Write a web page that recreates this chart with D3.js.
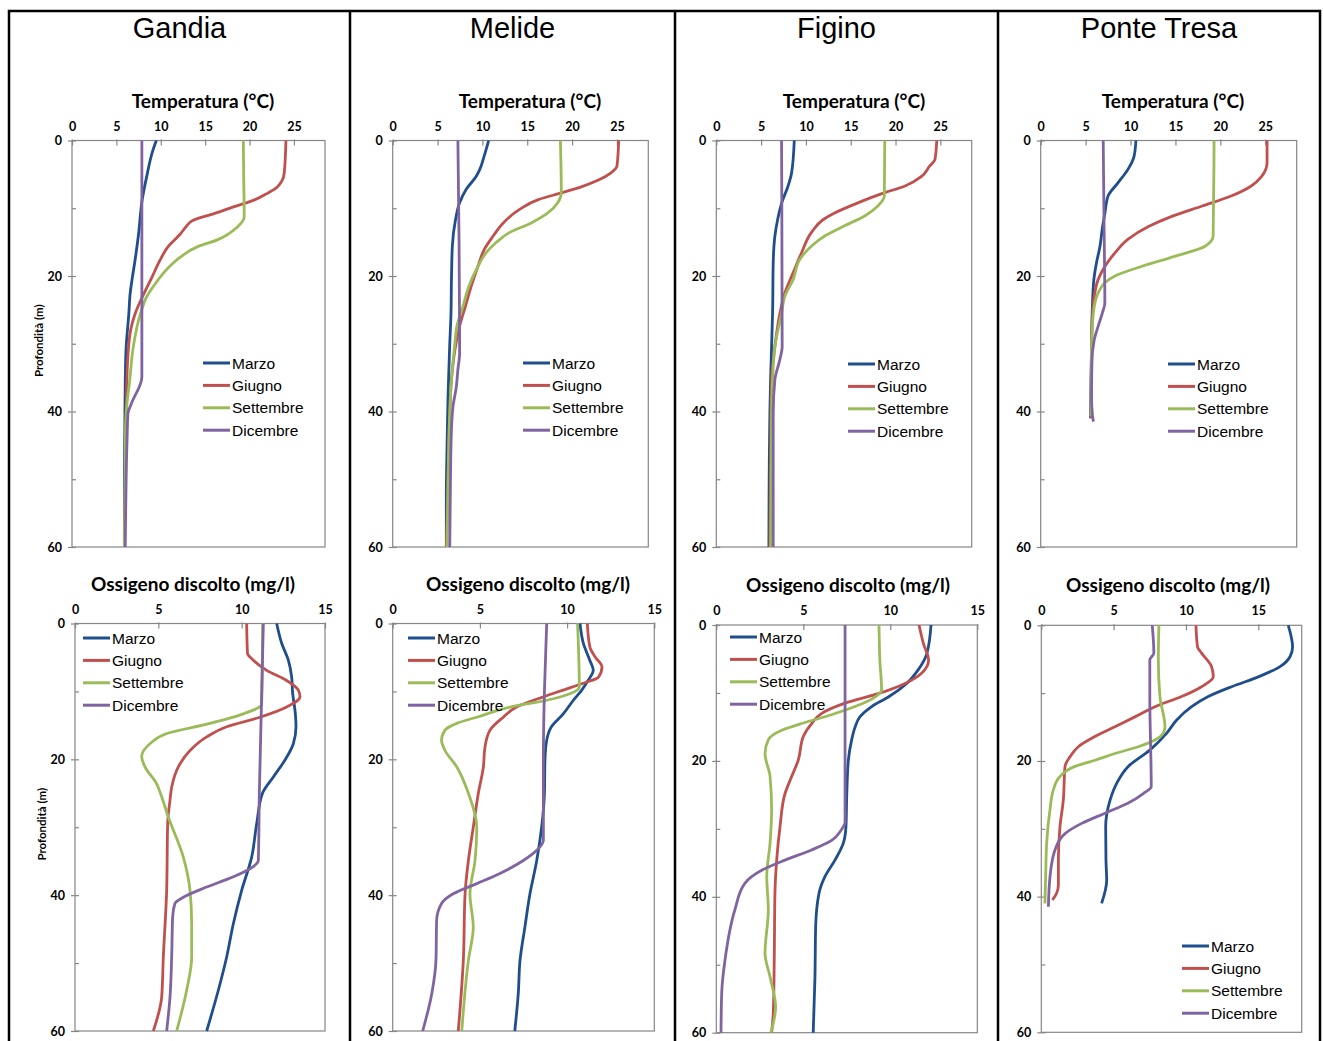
<!DOCTYPE html>
<html>
<head>
<meta charset="utf-8">
<script src="https://cdn.jsdelivr.net/npm/d3@7"></script>
<style>
  html, body { margin: 0; padding: 0; background: #fff; }
  svg { display: block; }
  .tick text { font-family: Lato, "Open Sans", sans-serif; font-weight: 700; font-size: 12.5px; fill: #000; }
  .tick line { stroke: #868686; }
</style>
</head>
<body>
<svg id="chart" width="1323" height="1041"></svg>
<script>
// sites and series
const sites = ["Gandia", "Melide", "Figino", "Ponte Tresa"];
const months = ["Marzo", "Giugno", "Settembre", "Dicembre"];
const depthTicks = [0, 10, 20, 30, 40, 50, 60];
const tempTicks = [0, 5, 10, 15, 20, 25];
const oxyTicks = [0, 5, 10, 15];

// each series: [depth (m), value]; order = months
const tempGandia = [
    [[0,9.5],[1.5,9.1],[5.4,8.4],[8.8,7.9],[13.8,7.5],[17.7,7.1],[20.2,6.8],[22.6,6.55],[25.6,6.4],[30.5,6.1],[35.4,6.0],[42.8,5.95],[50,5.9],[60,5.9]],
    [[0,24.1],[4.9,23.9],[6.9,23.1],[7.8,22],[8.8,20.5],[9.8,18.2],[10.8,16],[11.8,13.6],[12.8,12.8],[13.8,12.2],[15.7,10.8],[17.7,9.9],[20.2,9.0],[22.6,8.1],[25.6,7.1],[28,6.6],[32.9,6.25],[40.3,6.1],[50,6.0],[60,5.9]],
    [[0,19.3],[6,19.35],[11.3,19.4],[12.8,18.6],[14.7,16.3],[15.7,14.1],[17.2,12.2],[18.7,10.9],[21.1,9.4],[23.1,8.4],[25.6,7.7],[30.5,6.9],[35.4,6.5],[40.3,6.1],[45.2,6.0],[60,5.9]],
    [[0,7.87],[20,7.87],[34.9,7.87],[38.8,6.7],[40.3,6.3],[44.2,6.2],[60,6.0]]
];
const oxyGandia = [
    [[0,12.1],[2.9,12.4],[5.4,12.8],[7.9,13.0],[10.3,13.06],[12.8,13.2],[15.2,13.26],[17.7,13.1],[20.1,12.6],[22.6,11.9],[25,11.25],[29.5,10.9],[34.4,10.6],[39.3,10.0],[44.2,9.5],[49.1,9.1],[54,8.6],[60,7.9]],
    [[0,10.3],[4.4,10.35],[5.4,10.7],[6.9,11.5],[8.4,12.7],[9.8,13.4],[10.8,13.5],[12.3,12.7],[13.8,11.1],[15.2,9.1],[16.7,7.9],[18.7,6.9],[21.1,6.2],[24.1,5.8],[26,5.7],[29.5,5.56],[39.3,5.5],[49.1,5.3],[55,5.2],[60,4.7]],
    [[0,11.26],[11.9,11.2],[13.3,10.1],[14.7,8.1],[16.2,5.5],[17.7,4.5],[19.6,4.0],[21.1,4.2],[23.6,4.9],[25.5,5.2],[28.5,5.6],[34.4,6.5],[39.3,6.9],[44.2,7.0],[49.1,7.0],[54,6.7],[60,6.1]],
    [[0,11.3],[25,11.06],[34.9,11.0],[35.8,10.7],[37.3,9.5],[38.8,7.9],[40.3,6.5],[41.2,6.0],[43.2,5.86],[49.1,5.8],[55,5.7],[60,5.5]]
];
const tempMelide = [
    [[0,10.7],[2.3,10.2],[4.3,9.7],[5.3,9.3],[7.2,8.2],[9.2,7.46],[11.7,7.0],[15.6,6.65],[20.5,6.55],[25.5,6.5],[30.4,6.35],[37.8,6.17],[45.2,6.06],[52.5,5.98],[60,5.98]],
    [[0,25.2],[3.8,25.0],[4.8,24.3],[5.8,23.0],[6.8,21.1],[7.7,18.9],[8.7,16.3],[10.2,14.1],[12.2,12.3],[14.1,11.2],[16.1,10.2],[18.6,9.5],[21.5,8.76],[24.5,8.1],[27.4,7.46],[30.4,7.0],[35.3,6.55],[40.2,6.36],[50,6.17],[60,5.98]],
    [[0,18.7],[7.7,18.8],[9.2,18.4],[10.7,17.3],[12.2,15.4],[13.6,13.0],[15.1,11.5],[16.6,10.4],[18.6,9.5],[21.5,8.5],[24.5,7.83],[27.4,7.16],[30.4,6.9],[35.3,6.55],[40.2,6.36],[50,6.17],[60,6.06]],
    [[0,7.27],[15,7.4],[31.4,7.46],[33.8,7.27],[36.3,7.1],[39.2,6.73],[42.7,6.55],[50.1,6.44],[60,6.36]]
];
const oxyMelide = [
    [[0,10.74],[2.9,10.93],[5.4,11.3],[6.9,11.5],[8.4,11.2],[9.8,10.84],[11.3,10.36],[13.3,9.78],[15.2,9.1],[17.2,8.83],[20.1,8.73],[25,8.7],[30,8.54],[34.9,8.26],[39.8,7.87],[44.7,7.58],[49.6,7.3],[54.5,7.2],[60,7.0]],
    [[0,11.16],[3.4,11.3],[4.9,11.6],[6.4,12.0],[7.9,11.8],[8.8,10.93],[9.8,9.78],[10.8,8.64],[12.3,7.1],[13.8,6.34],[15.7,5.58],[18.2,5.29],[21.1,5.2],[25,4.91],[30,4.62],[34.9,4.34],[39.8,4.15],[49.6,4.05],[60,3.76]],
    [[0,10.6],[9.3,10.7],[10.3,10.2],[11.3,8.83],[12.3,6.73],[13.8,4.82],[14.7,3.67],[15.7,3.0],[17.2,2.8],[18.7,3.0],[21.1,3.67],[25,4.34],[30,4.82],[34.9,4.72],[39.8,4.43],[44.7,4.62],[49.6,4.34],[60,3.96]],
    [[0,8.83],[10,8.7],[20,8.64],[31.9,8.64],[33.4,8.26],[34.9,7.49],[36.8,6.15],[38.3,4.82],[39.8,3.47],[41.2,2.81],[43.7,2.52],[49.6,2.48],[54.5,2.24],[60,1.72]]
];
const tempFigino = [
    [[0,8.7],[4.8,8.4],[6.75,8.0],[9.2,7.3],[11.7,6.84],[14.1,6.54],[18.1,6.35],[25.5,6.28],[30.4,6.17],[35.3,6.06],[40.2,5.98],[50.1,5.9],[60,5.87]],
    [[0,24.6],[2.8,24.4],[3.8,23.8],[5.3,22.9],[6.75,21.0],[7.7,18.8],[9.2,15.8],[10.7,13.2],[11.7,11.9],[13.6,10.6],[16.6,9.5],[19.5,8.58],[22.5,7.65],[25.5,7.1],[30.4,6.54],[35.3,6.17],[40.2,6.1],[60,5.98]],
    [[0,18.8],[8.2,18.75],[9.7,18.0],[11.1,16.6],[12.6,14.3],[14.1,12.1],[15.6,10.6],[17.6,9.3],[20.5,8.58],[23,7.65],[25.5,7.28],[30.4,6.54],[35.3,6.28],[40.2,6.17],[60,6.06]],
    [[0,7.28],[30.4,7.35],[32.3,7.1],[35.3,6.54],[40.2,6.35],[60,6.35]]
];
const oxyFigino = [
    [[0,12.34],[4.2,12.1],[6.6,11.6],[8.6,10.94],[10.6,9.89],[12,8.93],[13.5,8.26],[15,7.98],[16.9,7.78],[19.9,7.59],[24.8,7.5],[29.7,7.45],[32.1,7.3],[34.6,6.82],[37,6.25],[39.5,5.9],[44.4,5.71],[51.8,5.67],[60,5.57]],
    [[0,11.65],[2.7,11.9],[5.2,12.2],[7.1,11.8],[8.6,10.85],[10.1,9.31],[11.5,7.4],[13,6.06],[14.5,5.48],[16.4,5.0],[19.9,4.71],[22.3,4.33],[24.8,3.95],[29.7,3.66],[34.6,3.47],[39.5,3.37],[49.3,3.33],[56.7,3.28],[60,3.18]],
    [[0,9.35],[5.2,9.4],[9.6,9.5],[10.6,9.12],[12,7.97],[13.5,6.25],[14.5,4.9],[15.5,3.76],[16.9,2.99],[18.9,2.8],[22.3,3.09],[27.2,3.18],[32.1,3.09],[37,2.9],[41.9,2.99],[48.3,2.8],[51.8,3.09],[56.2,3.41],[60,3.14]],
    [[0,7.4],[29,7.4],[30.2,7.17],[31.7,6.63],[33.1,5.48],[34.6,3.95],[36.1,2.61],[38,1.65],[41.9,1.07],[49.3,0.5],[54.2,0.31],[60,0.27]]
];
const tempPonteTresa = [
    [[0,10.6],[2.3,10.4],[4.3,9.7],[6.25,8.6],[8.2,7.5],[10.7,7.15],[13.1,6.85],[15.6,6.6],[18.1,6.2],[20.5,5.92],[25.5,5.73],[30.4,5.66],[35.3,5.6],[41,5.55]],
    [[0,25.2],[3.3,25.2],[5.3,24.6],[6.75,23.4],[8.2,21.2],[9.7,17.9],[11.2,14.6],[12.7,12.0],[14.6,9.7],[16.6,8.26],[18.6,7.14],[20.5,6.4],[23,5.96],[25.5,5.77],[30.4,5.66],[41,5.6]],
    [[0,19.3],[14.1,19.2],[15.6,18.3],[17.1,14.9],[18.6,11.2],[20,8.26],[21,7.14],[22.5,6.4],[24.5,5.96],[27.9,5.73],[30.4,5.66],[40.7,5.6]],
    [[0,6.96],[12,7.05],[24,7.14],[25.5,6.85],[27.4,6.4],[29.4,5.96],[32.8,5.7],[37.8,5.66],[40.7,5.77],[41.5,5.88]]
];
const oxyPonteTresa = [
    [[0,17.07],[3.2,17.37],[4.6,17.2],[6.1,16.5],[7.6,15.0],[9.05,13.16],[10.5,11.54],[12,10.39],[13.96,9.36],[15.9,8.67],[18.4,7.5],[20.8,6.01],[23.3,5.21],[25.8,4.75],[29.7,4.45],[34.6,4.47],[37.6,4.52],[41,4.17]],
    [[0,10.69],[3.2,10.8],[4.1,11.08],[6.1,11.77],[7.6,11.89],[9.05,11.08],[10.5,9.7],[12,7.86],[13.5,6.47],[14.95,5.09],[16.4,3.71],[17.9,2.56],[19.4,1.98],[20.8,1.64],[25.8,1.52],[29.7,1.29],[34.6,1.18],[38.3,1.18],[39.5,1.06],[40.5,0.77]],
    [[0,8.13],[5.1,8.09],[10.5,8.2],[14.95,8.55],[15.9,8.43],[16.9,7.86],[17.9,6.7],[18.9,5.09],[19.9,3.71],[20.8,2.33],[22.3,1.29],[24.3,0.83],[27.2,0.6],[32.1,0.37],[37.1,0.3],[41,0.25]],
    [[0,7.67],[4.1,7.78],[5.1,7.5],[10.5,7.5],[23.8,7.6],[24.8,7.05],[26.2,6.01],[27.7,4.4],[29.2,2.79],[30.7,1.64],[33.1,0.95],[37.1,0.6],[41.5,0.49]]
];

const colors = ["#1f4e8c", "#c0504d", "#9bbb59", "#8064a2"];

// panel layout (pixel boxes)
const panels = [
    // temperature row
    { site: 0, data: tempGandia, title: "Temperatura (°C)", ticks: tempTicks, max: 28.5, box: [72, 140.5, 325, 547], titleX: 203, legend: [203, 363], ylabel: true },
    { site: 1, data: tempMelide, title: "Temperatura (°C)", ticks: tempTicks, max: 28.5, box: [392.7, 140.5, 648.3, 547], titleX: 530, legend: [523, 363] },
    { site: 2, data: tempFigino, title: "Temperatura (°C)", ticks: tempTicks, max: 28.5, box: [716.3, 140.5, 971.7, 547], titleX: 854, legend: [848, 364] },
    { site: 3, data: tempPonteTresa, title: "Temperatura (°C)", ticks: tempTicks, max: 28.5, box: [1040.7, 140.5, 1296.7, 547], titleX: 1173, legend: [1168, 364] },
    // oxygen row
    { site: 0, data: oxyGandia, title: "Ossigeno discolto (mg/l)", ticks: oxyTicks, max: 15, box: [75, 623.5, 325, 1031], titleX: 193, legend: [83, 638], ylabel: true },
    { site: 1, data: oxyMelide, title: "Ossigeno discolto (mg/l)", ticks: oxyTicks, max: 15, box: [392.7, 623.5, 654.3, 1031], titleX: 528, legend: [408, 638] },
    { site: 2, data: oxyFigino, title: "Ossigeno discolto (mg/l)", ticks: oxyTicks, max: 15, box: [716.3, 625, 977.3, 1032.7], titleX: 848, legend: [730, 637] },
    { site: 3, data: oxyPonteTresa, title: "Ossigeno discolto (mg/l)", ticks: oxyTicks, max: 18, box: [1041.3, 625.3, 1301.7, 1032.3], titleX: 1168, legend: [1182, 946] }
];

const colEdges = [9, 350, 675, 998, 1320];

const svg = d3.select("#chart");
const labelFont = "Lato, 'Open Sans', sans-serif";
const plainFont = "'Liberation Sans', Arial, sans-serif";

// outer frame and column dividers
svg.append("rect")
    .attr("x", colEdges[0]).attr("y", 11)
    .attr("width", colEdges[4] - colEdges[0]).attr("height", 1045)
    .attr("fill", "none").attr("stroke", "#000").attr("stroke-width", 2.5);
svg.selectAll("line.divider").data(colEdges.slice(1, 4))
    .join("line")
    .attr("class", "divider")
    .attr("x1", d => d).attr("x2", d => d)
    .attr("y1", 11).attr("y2", 1041)
    .attr("stroke", "#000").attr("stroke-width", 2.5);

svg.selectAll("text.site").data(sites)
    .join("text")
    .attr("class", "site")
    .attr("x", (d, i) => (colEdges[i] + colEdges[i + 1]) / 2)
    .attr("y", 38)
    .attr("text-anchor", "middle")
    .style("font-family", plainFont)
    .style("font-size", "29px")
    .text(d => d);

panels.forEach(p => {
    const [x0, y0, x1, y1] = p.box;
    const x = d3.scaleLinear().domain([0, p.max]).range([x0, x1]);
    const y = d3.scaleLinear().domain([0, 60]).range([y0, y1]);
    const g = svg.append("g");

    g.append("rect")
        .attr("x", x0).attr("y", y0)
        .attr("width", x1 - x0).attr("height", y1 - y0)
        .attr("fill", "none").attr("stroke", "#868686").attr("stroke-width", 1.2);

    const xAxis = g.append("g")
        .attr("transform", `translate(0,${y0})`)
        .call(d3.axisTop(x).tickValues(p.ticks).tickSize(-5).tickPadding(10).tickFormat(d3.format("d")));
    xAxis.select(".domain").remove();
    xAxis.selectAll(".tick line").attr("y1", -1).attr("stroke-width", 1.2);

    const yAxis = g.append("g")
        .attr("transform", `translate(${x0},0)`)
        .call(d3.axisLeft(y).tickValues(depthTicks).tickSize(0).tickPadding(10)
            .tickFormat(d => d % 20 === 0 ? d : ""));
    yAxis.select(".domain").remove();
    yAxis.selectAll(".tick line")
        .attr("x1", d => d % 20 === 0 ? -4 : 0)
        .attr("x2", 4)
        .attr("stroke-width", 1.2);

    g.append("text")
        .attr("x", p.titleX).attr("y", y0 - 33)
        .attr("text-anchor", "middle")
        .style("font-family", labelFont).style("font-weight", 700).style("font-size", "19px")
        .text(p.title);

    if (p.ylabel) {
        g.append("text")
            .attr("transform", `translate(${x0 - 29},${(y0 + y1) / 2 - 3}) rotate(-90)`)
            .attr("text-anchor", "middle")
            .style("font-family", labelFont).style("font-weight", 700).style("font-size", "11.5px")
            .text("Profondità (m)");
    }

    const line = d3.line()
        .x(d => x(d[1]))
        .y(d => y(d[0]))
        .curve(d3.curveMonotoneY);

    g.selectAll("path.series").data(p.data)
        .join("path")
        .attr("class", "series")
        .attr("d", line)
        .attr("fill", "none")
        .attr("stroke", (d, i) => colors[i])
        .attr("stroke-width", 2.8)
        .attr("stroke-linejoin", "round");

    const lg = g.append("g").attr("transform", `translate(${p.legend[0]},${p.legend[1]})`);
    const item = lg.selectAll("g").data(months)
        .join("g")
        .attr("transform", (d, i) => `translate(0,${i * 22.4})`);
    item.append("line")
        .attr("x1", 0).attr("x2", 27)
        .attr("stroke", (d, i) => colors[i])
        .attr("stroke-width", 3);
    item.append("text")
        .attr("x", 29).attr("dy", "0.36em")
        .style("font-family", plainFont).style("font-size", "15.5px")
        .text(d => d);
});
</script>
</body>
</html>
